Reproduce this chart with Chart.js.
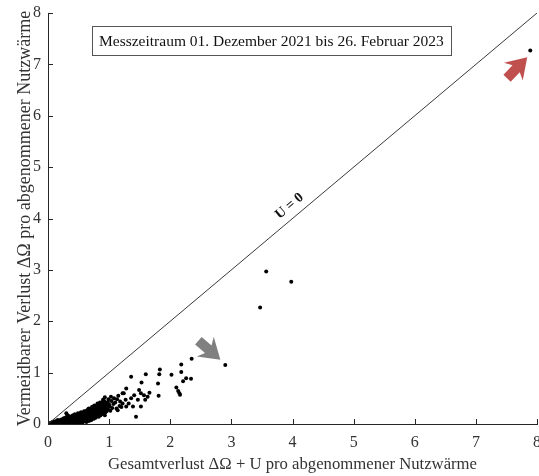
<!DOCTYPE html>
<html lang="de">
<head>
<meta charset="utf-8">
<script src="https://cdn.jsdelivr.net/npm/chart.js@4"></script>
<style>
  html, body { margin: 0; padding: 0; background: #fff; }
  canvas { display: block; }
</style>
</head>
<body>
<canvas id="chart" width="539" height="476"></canvas>
<script>
// Gesamtverlust (x) / vermeidbarer Verlust (y), je Messtag
const kernPunkte = [
  [0.01,0.00],[0.02,0.01],[0.03,0.00],[0.04,0.02],[0.05,0.01],[0.06,0.00],[0.07,0.03],[0.08,0.01],
  [0.09,0.02],[0.10,0.00],[0.10,0.04],[0.11,0.01],[0.12,0.03],[0.13,0.00],[0.13,0.05],[0.14,0.02],
  [0.15,0.04],[0.16,0.01],[0.17,0.06],[0.17,0.03],[0.18,0.00],[0.19,0.04],[0.20,0.02],[0.20,0.07],
  [0.21,0.05],[0.22,0.01],[0.22,0.09],[0.23,0.03],[0.24,0.06],[0.25,0.02],[0.25,0.10],[0.26,0.04],
  [0.27,0.07],[0.27,0.00],[0.28,0.05],[0.29,0.12],[0.29,0.02],[0.30,0.08],[0.30,0.04],[0.30,0.21],
  [0.31,0.01],[0.31,0.10],[0.32,0.06],[0.32,0.17],[0.33,0.03],[0.33,0.13],[0.34,0.08],[0.35,0.05],
  [0.35,0.11],[0.36,0.02],[0.36,0.14],[0.37,0.07],[0.38,0.10],[0.38,0.04],[0.39,0.15],[0.40,0.06],
  [0.40,0.12],[0.41,0.03],[0.41,0.17],[0.42,0.09],[0.43,0.13],[0.43,0.05],[0.44,0.19],[0.45,0.08],
  [0.45,0.15],[0.46,0.11],[0.46,0.02],[0.47,0.17],[0.48,0.07],[0.48,0.13],[0.49,0.21],[0.50,0.10],
  [0.50,0.04],[0.50,0.16],[0.51,0.12],[0.52,0.19],[0.52,0.06],[0.53,0.14],[0.54,0.23],[0.54,0.09],
  [0.55,0.17],[0.56,0.12],[0.56,0.03],[0.57,0.20],[0.58,0.08],[0.58,0.15],[0.59,0.25],[0.60,0.11],
  [0.60,0.18],[0.61,0.22],[0.62,0.14],[0.62,0.06],[0.63,0.19],[0.64,0.27],[0.64,0.10],[0.65,0.16],
  [0.66,0.23],[0.66,0.13],[0.67,0.30],[0.68,0.18],[0.68,0.08],[0.69,0.21],[0.70,0.15],[0.70,0.26],
  [0.71,0.11],[0.72,0.19],[0.72,0.33],[0.73,0.24],[0.74,0.16],[0.74,0.29],[0.75,0.21],[0.76,0.13],
  [0.76,0.36],[0.77,0.26],[0.78,0.19],[0.78,0.31],[0.79,0.23],[0.80,0.28],[0.80,0.15],[0.81,0.40],
  [0.82,0.22],[0.83,0.33],[0.84,0.18],[0.84,0.27],[0.85,0.42],[0.86,0.30],[0.87,0.24],[0.88,0.36],
  [0.89,0.20],[0.90,0.32],[0.91,0.27],[0.92,0.45],[0.93,0.38],[0.94,0.23]
];
const dichtPunkte = [
  [0.04,0.00],[0.06,0.03],[0.08,0.04],[0.11,0.05],[0.12,0.00],[0.14,0.06],[0.15,0.01],[0.16,0.08],
  [0.18,0.03],[0.19,0.07],[0.21,0.00],[0.23,0.08],[0.24,0.01],[0.26,0.11],[0.28,0.09],[0.28,0.00],
  [0.30,0.13],[0.32,0.01],[0.33,0.09],[0.34,0.15],[0.35,0.00],[0.36,0.09],[0.37,0.12],[0.38,0.01],
  [0.39,0.08],[0.40,0.15],[0.41,0.10],[0.42,0.02],[0.42,0.14],[0.44,0.06],[0.44,0.11],[0.45,0.00],
  [0.46,0.15],[0.47,0.09],[0.47,0.04],[0.49,0.12],[0.49,0.06],[0.51,0.08],[0.51,0.17],[0.52,0.02],
  [0.53,0.11],[0.53,0.21],[0.55,0.06],[0.55,0.13],[0.56,0.19],[0.57,0.10],[0.58,0.22],[0.59,0.05],
  [0.59,0.14],[0.61,0.09],[0.61,0.16],[0.62,0.25],[0.63,0.12],[0.63,0.04],[0.65,0.20],[0.65,0.09],
  [0.66,0.29],[0.67,0.15],[0.67,0.06],[0.69,0.12],[0.69,0.25],[0.70,0.19],[0.71,0.29],[0.71,0.08],
  [0.73,0.15],[0.73,0.20],[0.74,0.34],[0.75,0.10],[0.75,0.27],[0.77,0.17],[0.77,0.31],[0.78,0.12],
  [0.79,0.28],[0.80,0.21],[0.81,0.18],[0.81,0.33],[0.82,0.27],[0.83,0.14],[0.83,0.38],[0.85,0.22],
  [0.85,0.31],[0.86,0.17],[0.87,0.35],[0.88,0.26],[0.89,0.43],[0.90,0.21],[0.91,0.37],[0.92,0.30],
  [0.93,0.17],[0.94,0.33],[0.95,0.41],[0.96,0.25],[0.97,0.36],[0.98,0.29],[0.99,0.48],[1.00,0.38],
  [1.02,0.26],[1.04,0.45],[1.05,0.31],[1.08,0.50],[1.10,0.42],[1.12,0.30],[1.15,0.55],[1.18,0.44],
  [1.20,0.33]
];
const streuPunkte = [
  [0.93,0.52],[1.03,0.53],[1.13,0.48],[1.22,0.60],[1.28,0.69],[1.27,0.47],[1.32,0.40],[1.36,0.50],
  [1.41,0.56],[1.47,0.47],[1.49,0.66],[1.52,0.60],[1.57,0.56],[1.63,0.53],[1.66,0.61],[1.59,0.47],
  [1.52,0.34],[1.39,0.34],[1.17,0.35],[1.07,0.39],[1.01,0.34],[0.95,0.27],[0.87,0.31],[0.82,0.37],
  [0.76,0.24],[0.90,0.40],[0.98,0.43],[0.90,0.47],[1.22,0.40],[1.14,0.27],[1.28,0.34],[1.44,0.14],
  [1.24,0.60],[1.36,0.92],[1.60,0.97],[1.83,1.06],[1.82,0.97],[1.80,0.79],[1.53,0.81],[1.81,0.55],
  [2.35,1.27],[2.18,1.16],[2.18,1.01],[2.02,0.96],[2.26,0.89],[2.34,0.88],[2.21,0.83],[2.10,0.71],
  [2.13,0.64],[2.15,0.60],[2.16,0.57]
];
const ausreisser = [[2.90,1.15],[3.47,2.27],[3.57,2.97],[3.98,2.77],[7.89,7.27]];
const diagonale = [0, 8];
const achsenTicks = [0, 1, 2, 3, 4, 5, 6, 7, 8];
const messzeitraum = 'Messzeitraum 01. Dezember 2021 bis 26. Februar 2023';

const serif = '"Liberation Serif", "Times New Roman", serif';
const txt = '#333333';
const alsPunkte = arr => arr.map(([x, y]) => ({ x, y }));

function pfeil(ctx, sx, sy, tx, ty, farbe) {
  const dx = tx - sx, dy = ty - sy, len = Math.hypot(dx, dy);
  const ux = dx / len, uy = dy / len, nx = -uy, ny = ux;
  const kopf = 20, breite = 13, schaft = 5;
  const bx = tx - ux * kopf, by = ty - uy * kopf;
  ctx.fillStyle = farbe;
  ctx.beginPath();
  ctx.moveTo(tx, ty);
  ctx.lineTo(bx + nx * breite, by + ny * breite);
  ctx.lineTo(bx + nx * schaft + ux * 4, by + ny * schaft + uy * 4);
  ctx.lineTo(sx + nx * schaft, sy + ny * schaft);
  ctx.lineTo(sx - nx * schaft, sy - ny * schaft);
  ctx.lineTo(bx - nx * schaft + ux * 4, by - ny * schaft + uy * 4);
  ctx.lineTo(bx - nx * breite, by - ny * breite);
  ctx.closePath();
  ctx.fill();
}

const deko = {
  id: 'deko',
  afterDatasetsDraw(chart) {
    const { ctx, chartArea: ca, scales: { x, y } } = chart;
    ctx.save();
    // Ticks nach innen
    ctx.strokeStyle = '#262626';
    ctx.lineWidth = 1;
    ctx.beginPath();
    x.ticks.forEach((t, i) => {
      const px = Math.round(x.getPixelForTick(i)) + 0.5;
      ctx.moveTo(px, ca.bottom);
      ctx.lineTo(px, ca.bottom - 5);
    });
    y.ticks.forEach((t, i) => {
      const py = Math.round(y.getPixelForTick(i)) + 0.5;
      ctx.moveTo(ca.left, py);
      ctx.lineTo(ca.left + 5, py);
    });
    ctx.stroke();

    // Beschriftung der Diagonale
    const winkel = Math.atan2(y.getPixelForValue(0) - y.getPixelForValue(8),
                              x.getPixelForValue(8) - x.getPixelForValue(0));
    ctx.save();
    ctx.translate(x.getPixelForValue(3.95), y.getPixelForValue(4.24));
    ctx.rotate(-winkel);
    ctx.fillStyle = '#111';
    ctx.font = 'bold 14px ' + serif;
    ctx.textAlign = 'center';
    ctx.textBaseline = 'middle';
    ctx.fillText('U = 0', 0, 0);
    ctx.restore();

    // Pfeile
    pfeil(ctx, x.getPixelForValue(7.51), y.getPixelForValue(6.73),
          x.getPixelForValue(7.84), y.getPixelForValue(7.14), '#c0504d');
    pfeil(ctx, x.getPixelForValue(2.46), y.getPixelForValue(1.62),
          x.getPixelForValue(2.82), y.getPixelForValue(1.25), '#808080');

    // Textbox Messzeitraum
    ctx.font = '15.5px ' + serif;
    const w = ctx.measureText(messzeitraum).width;
    const bl = x.getPixelForValue(0.72), bt = y.getPixelForValue(7.74);
    const bw = w + 14, bh = 29;
    ctx.fillStyle = '#fff';
    ctx.fillRect(Math.round(bl) + 0.5, Math.round(bt) + 0.5, Math.round(bw), bh);
    ctx.strokeStyle = '#555';
    ctx.strokeRect(Math.round(bl) + 0.5, Math.round(bt) + 0.5, Math.round(bw), bh);
    ctx.fillStyle = '#111';
    ctx.textAlign = 'left';
    ctx.textBaseline = 'middle';
    ctx.fillText(messzeitraum, bl + 7, bt + bh / 2 + 1);
    ctx.restore();
  }
};

const punktStil = { type: 'scatter', pointRadius: 2, pointHoverRadius: 2,
  backgroundColor: '#000', borderColor: '#000', borderWidth: 0 };

new Chart(document.getElementById('chart'), {
  type: 'scatter',
  data: {
    datasets: [
      { type: 'line', data: diagonale.map(v => ({ x: v, y: v })), borderColor: '#3a3a3a',
        borderWidth: 1, pointRadius: 0, fill: false },
      { ...punktStil, data: alsPunkte(kernPunkte) },
      { ...punktStil, data: alsPunkte(dichtPunkte) },
      { ...punktStil, data: alsPunkte(streuPunkte) },
      { ...punktStil, data: alsPunkte(ausreisser) }
    ]
  },
  options: {
    responsive: false,
    animation: false,
    devicePixelRatio: 1,
    layout: { padding: { top: 13, right: -1, left: 0, bottom: 0 } },
    plugins: { legend: { display: false }, tooltip: { enabled: false } },
    scales: {
      x: {
        type: 'linear', min: 0, max: 8,
        afterBuildTicks: s => { s.ticks = achsenTicks.map(v => ({ value: v })); },
        afterFit: s => { s.height = 52; s.paddingLeft = 0; s.paddingRight = 0; },
        grid: { display: false, drawTicks: false },
        border: { display: true, color: '#262626', width: 1 },
        ticks: { color: txt, font: { family: serif, size: 16 }, padding: 9, maxRotation: 0 },
        title: { display: true, text: 'Gesamtverlust ΔΩ + U pro abgenommener Nutzwärme',
          color: txt, font: { family: serif, size: 16.7 }, padding: { top: 0, bottom: 1 } }
      },
      y: {
        type: 'linear', min: 0, max: 8,
        afterBuildTicks: s => { s.ticks = achsenTicks.map(v => ({ value: v })); },
        afterFit: s => { s.width = 48; s.paddingTop = 0; s.paddingBottom = 0; },
        grid: { display: false, drawTicks: false },
        border: { display: true, color: '#262626', width: 1 },
        ticks: { color: txt, font: { family: serif, size: 16 }, padding: 7 },
        title: { display: true, text: 'Vermeidbarer Verlust ΔΩ pro abgenommener Nutzwärme',
          color: txt, font: { family: serif, size: 18 }, padding: { top: 14, bottom: 0 } }
      }
    }
  },
  plugins: [deko]
});
</script>
</body>
</html>
